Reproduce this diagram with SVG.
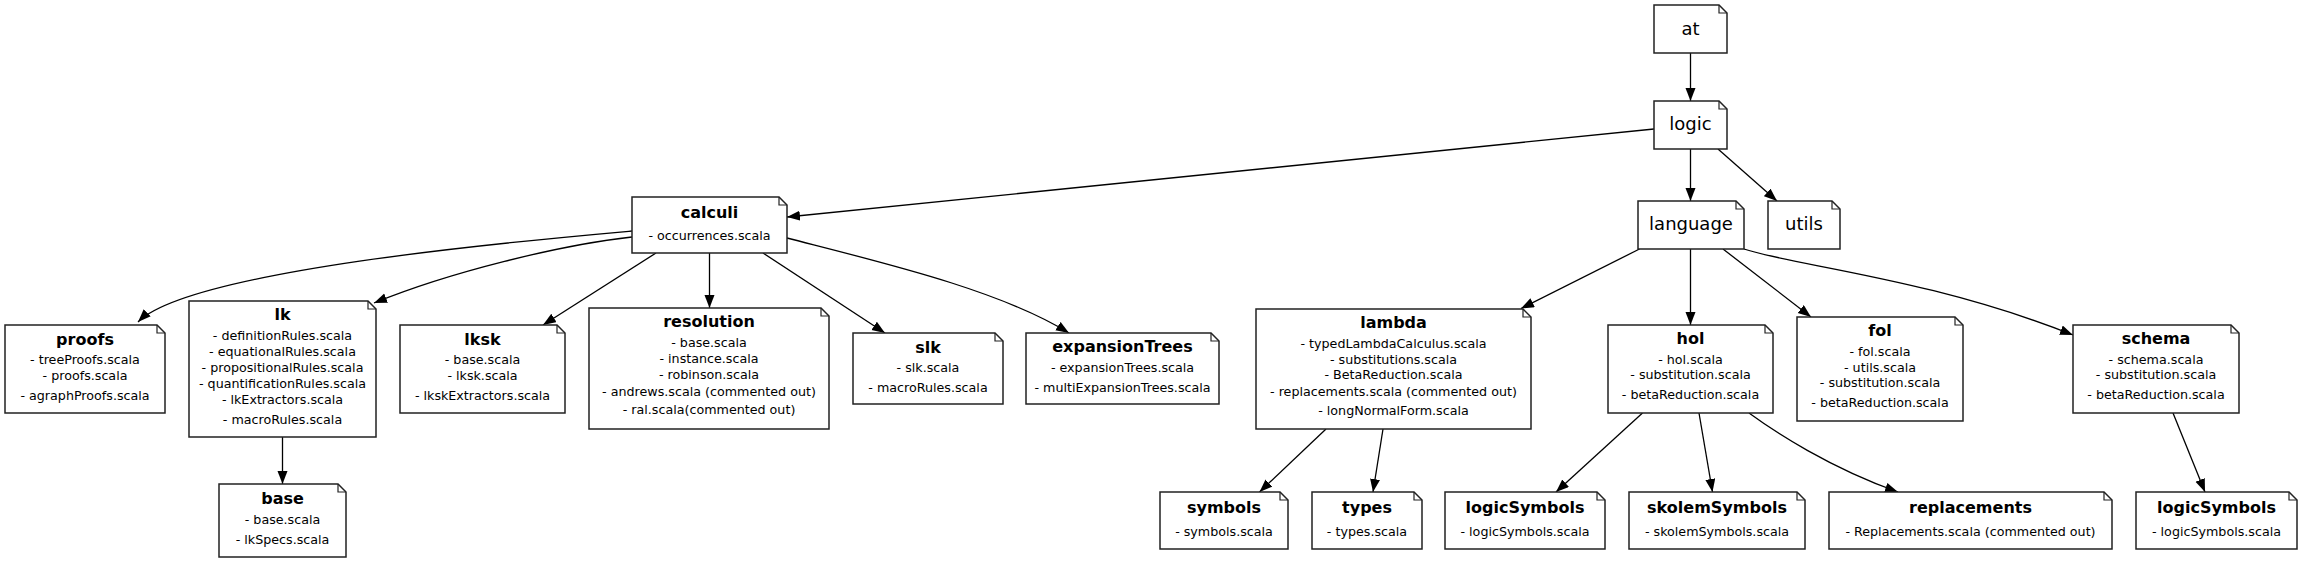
<svg xmlns="http://www.w3.org/2000/svg" width="2301" height="563" viewBox="0 0 2301 563">
<style>
.box{fill:#fff;stroke:#222;stroke-width:1.5;}
.fold{fill:none;stroke:#222;stroke-width:1.2;}
.top{font-family:"DejaVu Sans",sans-serif;font-size:18px;fill:#000;text-anchor:middle;dominant-baseline:central;}
.t{font-family:"DejaVu Sans",sans-serif;font-size:16px;font-weight:bold;fill:#000;text-anchor:middle;dominant-baseline:central;}
.i{font-family:"DejaVu Sans",sans-serif;font-size:12.7px;fill:#000;text-anchor:middle;dominant-baseline:central;}
.e{fill:none;stroke:#000;stroke-width:1.3;marker-end:url(#ah);}
</style>
<defs>
<marker id="ah" markerWidth="14" markerHeight="11" refX="13" refY="5" orient="auto" markerUnits="userSpaceOnUse"><path d="M0,0 L13,5 L0,10 z" fill="#000"/></marker>
</defs>
<rect width="2301" height="563" fill="#fff"/>
<g id="connectors">
<path class="e" d="M1690.5,53 V101"/>
<path class="e" d="M1654,129 L787,217"/>
<path class="e" d="M1690.5,149 V201"/>
<path class="e" d="M1718,149 L1777,201"/>
<path class="e" d="M632,231 C520,241 190,270 138,322"/>
<path class="e" d="M632,237 C560,245 450,272 374,303"/>
<path class="e" d="M656,253 L543,325"/>
<path class="e" d="M709.5,253 V308"/>
<path class="e" d="M763,253 L885,333"/>
<path class="e" d="M787,238 C880,262 1000,290 1069,333"/>
<path class="e" d="M282.5,437 V484"/>
<path class="e" d="M1639.5,249 L1521,308.5"/>
<path class="e" d="M1690.5,249 V325"/>
<path class="e" d="M1723,249 L1811,317"/>
<path class="e" d="M1744,249 C1790,265 1930,278 2073,335"/>
<path class="e" d="M1326,429 L1259.5,492"/>
<path class="e" d="M1383,429 L1373,492"/>
<path class="e" d="M1642.5,413 L1556,492"/>
<path class="e" d="M1699,413 L1712.5,492"/>
<path class="e" d="M1749,413 C1775,432 1830,468 1898,492"/>
<path class="e" d="M2173,413 L2205,492"/>
</g>
<g id="at">
<path class="box" d="M1654,5 H1719 L1727,13 V53 H1654 Z"/><path class="fold" d="M1719,5 V13 H1727"/>
<text class="top" x="1690.5" y="28.5">at</text>
</g>
<g id="logic">
<path class="box" d="M1654,101 H1719 L1727,109 V149 H1654 Z"/><path class="fold" d="M1719,101 V109 H1727"/>
<text class="top" x="1690.5" y="123.5">logic</text>
</g>
<g id="language">
<path class="box" d="M1638,201 H1736 L1744,209 V249 H1638 Z"/><path class="fold" d="M1736,201 V209 H1744"/>
<text class="top" x="1691" y="223.5">language</text>
</g>
<g id="utils">
<path class="box" d="M1768,201 H1832 L1840,209 V249 H1768 Z"/><path class="fold" d="M1832,201 V209 H1840"/>
<text class="top" x="1804" y="223.5">utils</text>
</g>
<g id="calculi">
<path class="box" d="M632,197 H779 L787,205 V253 H632 Z"/><path class="fold" d="M779,197 V205 H787"/>
<text class="t" x="709.5" y="212">calculi</text>
<text class="i" x="709.5" y="235">- occurrences.scala</text>
</g>
<g id="proofs">
<path class="box" d="M5,325 H157 L165,333 V413 H5 Z"/><path class="fold" d="M157,325 V333 H165"/>
<text class="t" x="85" y="339">proofs</text>
<text class="i" x="85" y="359.5">- treeProofs.scala</text>
<text class="i" x="85" y="375">- proofs.scala</text>
<text class="i" x="85" y="395.5">- agraphProofs.scala</text>
</g>
<g id="lk">
<path class="box" d="M189,301 H368 L376,309 V437 H189 Z"/><path class="fold" d="M368,301 V309 H376"/>
<text class="t" x="282.5" y="314.5">lk</text>
<text class="i" x="282.5" y="335">- definitionRules.scala</text>
<text class="i" x="282.5" y="351">- equationalRules.scala</text>
<text class="i" x="282.5" y="367">- propositionalRules.scala</text>
<text class="i" x="282.5" y="383">- quantificationRules.scala</text>
<text class="i" x="282.5" y="399">- lkExtractors.scala</text>
<text class="i" x="282.5" y="419">- macroRules.scala</text>
</g>
<g id="lksk">
<path class="box" d="M400,325 H557 L565,333 V413 H400 Z"/><path class="fold" d="M557,325 V333 H565"/>
<text class="t" x="482.5" y="339">lksk</text>
<text class="i" x="482.5" y="359.5">- base.scala</text>
<text class="i" x="482.5" y="375">- lksk.scala</text>
<text class="i" x="482.5" y="395.5">- lkskExtractors.scala</text>
</g>
<g id="resolution">
<path class="box" d="M589,308 H821 L829,316 V429 H589 Z"/><path class="fold" d="M821,308 V316 H829"/>
<text class="t" x="709" y="321">resolution</text>
<text class="i" x="709" y="342">- base.scala</text>
<text class="i" x="709" y="358">- instance.scala</text>
<text class="i" x="709" y="374">- robinson.scala</text>
<text class="i" x="709" y="391">- andrews.scala (commented out)</text>
<text class="i" x="709" y="409">- ral.scala(commented out)</text>
</g>
<g id="slk">
<path class="box" d="M853,333 H995 L1003,341 V404 H853 Z"/><path class="fold" d="M995,333 V341 H1003"/>
<text class="t" x="928" y="347">slk</text>
<text class="i" x="928" y="367">- slk.scala</text>
<text class="i" x="928" y="387">- macroRules.scala</text>
</g>
<g id="expansionTrees">
<path class="box" d="M1026,333 H1211 L1219,341 V404 H1026 Z"/><path class="fold" d="M1211,333 V341 H1219"/>
<text class="t" x="1122.5" y="346.5">expansionTrees</text>
<text class="i" x="1122.5" y="367">- expansionTrees.scala</text>
<text class="i" x="1122.5" y="387">- multiExpansionTrees.scala</text>
</g>
<g id="lambda">
<path class="box" d="M1256,309 H1523 L1531,317 V429 H1256 Z"/><path class="fold" d="M1523,309 V317 H1531"/>
<text class="t" x="1393.5" y="322.5">lambda</text>
<text class="i" x="1393.5" y="343">- typedLambdaCalculus.scala</text>
<text class="i" x="1393.5" y="359">- substitutions.scala</text>
<text class="i" x="1393.5" y="374.5">- BetaReduction.scala</text>
<text class="i" x="1393.5" y="391">- replacements.scala (commented out)</text>
<text class="i" x="1393.5" y="410">- longNormalForm.scala</text>
</g>
<g id="hol">
<path class="box" d="M1608,325 H1765 L1773,333 V413 H1608 Z"/><path class="fold" d="M1765,325 V333 H1773"/>
<text class="t" x="1690.5" y="338.5">hol</text>
<text class="i" x="1690.5" y="359">- hol.scala</text>
<text class="i" x="1690.5" y="374.5">- substitution.scala</text>
<text class="i" x="1690.5" y="394.5">- betaReduction.scala</text>
</g>
<g id="fol">
<path class="box" d="M1797,317 H1955 L1963,325 V421 H1797 Z"/><path class="fold" d="M1955,317 V325 H1963"/>
<text class="t" x="1880" y="330.5">fol</text>
<text class="i" x="1880" y="351">- fol.scala</text>
<text class="i" x="1880" y="367">- utils.scala</text>
<text class="i" x="1880" y="382.5">- substitution.scala</text>
<text class="i" x="1880" y="402.5">- betaReduction.scala</text>
</g>
<g id="schema">
<path class="box" d="M2073,325 H2231 L2239,333 V413 H2073 Z"/><path class="fold" d="M2231,325 V333 H2239"/>
<text class="t" x="2156" y="338.5">schema</text>
<text class="i" x="2156" y="359">- schema.scala</text>
<text class="i" x="2156" y="374.5">- substitution.scala</text>
<text class="i" x="2156" y="394.5">- betaReduction.scala</text>
</g>
<g id="base">
<path class="box" d="M219,484 H338 L346,492 V557 H219 Z"/><path class="fold" d="M338,484 V492 H346"/>
<text class="t" x="282.5" y="498.5">base</text>
<text class="i" x="282.5" y="519">- base.scala</text>
<text class="i" x="282.5" y="539">- lkSpecs.scala</text>
</g>
<g id="symbols">
<path class="box" d="M1160,492 H1280 L1288,500 V549 H1160 Z"/><path class="fold" d="M1280,492 V500 H1288"/>
<text class="t" x="1224" y="507">symbols</text>
<text class="i" x="1224" y="531">- symbols.scala</text>
</g>
<g id="types">
<path class="box" d="M1312,492 H1414 L1422,500 V549 H1312 Z"/><path class="fold" d="M1414,492 V500 H1422"/>
<text class="t" x="1367" y="507">types</text>
<text class="i" x="1367" y="531">- types.scala</text>
</g>
<g id="logicSymbols_hol">
<path class="box" d="M1445,492 H1597 L1605,500 V549 H1445 Z"/><path class="fold" d="M1597,492 V500 H1605"/>
<text class="t" x="1525" y="507">logicSymbols</text>
<text class="i" x="1525" y="531">- logicSymbols.scala</text>
</g>
<g id="skolemSymbols">
<path class="box" d="M1629,492 H1797 L1805,500 V549 H1629 Z"/><path class="fold" d="M1797,492 V500 H1805"/>
<text class="t" x="1717" y="507">skolemSymbols</text>
<text class="i" x="1717" y="531">- skolemSymbols.scala</text>
</g>
<g id="replacements">
<path class="box" d="M1829,492 H2104 L2112,500 V549 H1829 Z"/><path class="fold" d="M2104,492 V500 H2112"/>
<text class="t" x="1970.5" y="507">replacements</text>
<text class="i" x="1970.5" y="531">- Replacements.scala (commented out)</text>
</g>
<g id="logicSymbols_schema">
<path class="box" d="M2136,492 H2289 L2297,500 V549 H2136 Z"/><path class="fold" d="M2289,492 V500 H2297"/>
<text class="t" x="2216.5" y="507">logicSymbols</text>
<text class="i" x="2216.5" y="531">- logicSymbols.scala</text>
</g>
</svg>
